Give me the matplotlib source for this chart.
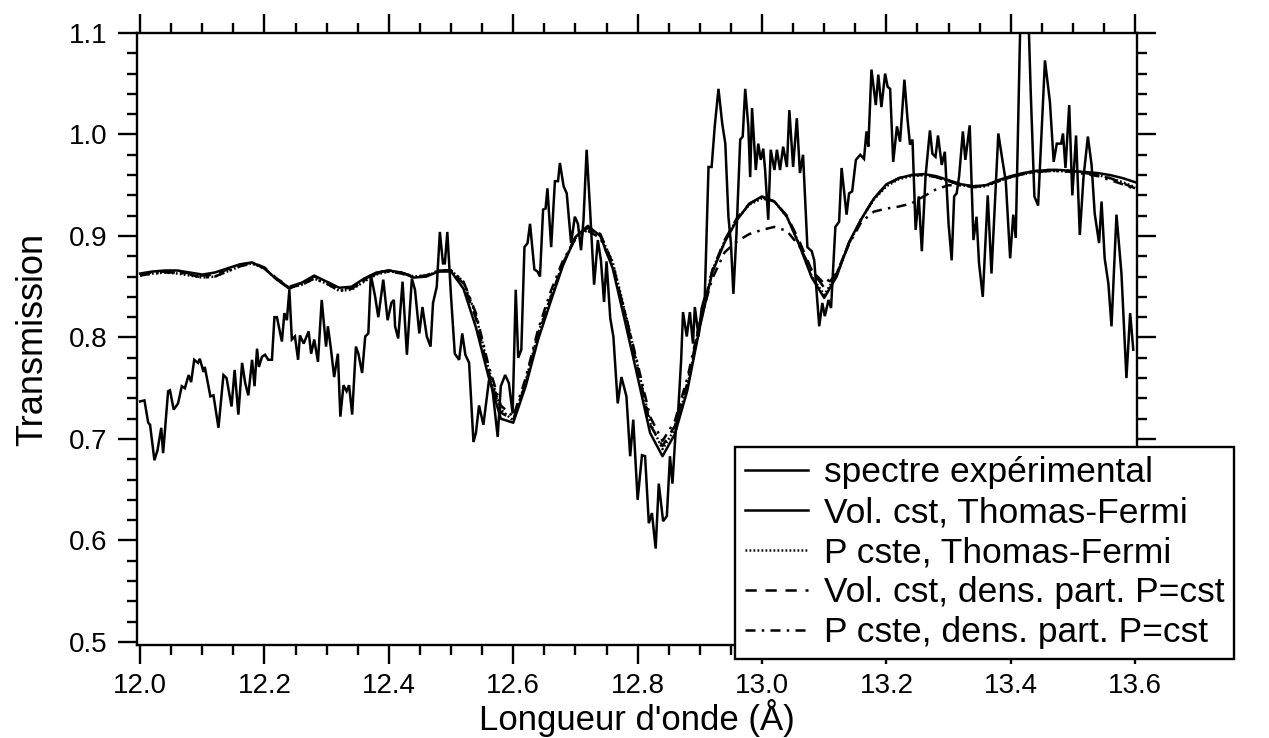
import numpy as np
import matplotlib
matplotlib.use("Agg")
import matplotlib.pyplot as plt
from matplotlib.ticker import MultipleLocator

plt.rcParams['font.family'] = ['Liberation Sans', 'DejaVu Sans']

# ---------------- data ----------------
exp_x = [12.000, 12.007, 12.013, 12.016, 12.023, 12.028, 12.034, 12.037, 12.045, 12.048,
         12.054, 12.061, 12.067, 12.072, 12.078, 12.082, 12.087, 12.093, 12.096, 12.102,
         12.104, 12.113, 12.118, 12.126, 12.134, 12.139, 12.147, 12.152, 12.158, 12.164,
         12.169, 12.174, 12.180, 12.184, 12.188, 12.191, 12.196, 12.201, 12.206, 12.212,
         12.216, 12.220, 12.228, 12.232, 12.236, 12.240, 12.244, 12.249, 12.254, 12.257,
         12.263, 12.271, 12.275, 12.280, 12.286, 12.292, 12.299, 12.302, 12.307, 12.312,
         12.318, 12.322, 12.327, 12.332, 12.336, 12.341, 12.347, 12.351, 12.357, 12.362,
         12.367, 12.371, 12.378, 12.383, 12.391, 12.398, 12.404, 12.408, 12.410, 12.415,
         12.422, 12.429, 12.437, 12.442, 12.449, 12.454, 12.461, 12.467, 12.471, 12.477,
         12.482, 12.487, 12.490, 12.494, 12.500, 12.506, 12.513, 12.518, 12.523, 12.529,
         12.536, 12.540, 12.545, 12.552, 12.561, 12.566, 12.575, 12.580, 12.587, 12.593,
         12.599, 12.604, 12.608, 12.613, 12.618, 12.623, 12.627, 12.634, 12.639, 12.643,
         12.648, 12.652, 12.655, 12.661, 12.667, 12.672, 12.675, 12.681, 12.686, 12.693,
         12.699, 12.704, 12.709, 12.713, 12.718, 12.723, 12.730, 12.736, 12.741, 12.746,
         12.750, 12.756, 12.761, 12.768, 12.774, 12.782, 12.788, 12.793, 12.800, 12.807,
         12.812, 12.818, 12.823, 12.829, 12.834, 12.841, 12.847, 12.852, 12.856, 12.861,
         12.865, 12.870, 12.873, 12.879, 12.884, 12.889, 12.892, 12.898, 12.903, 12.908,
         12.914, 12.919, 12.924, 12.930, 12.936, 12.941, 12.946, 12.950, 12.954, 12.959,
         12.965, 12.969, 12.973, 12.978, 12.981, 12.984, 12.990, 12.994, 12.998, 13.002,
         13.005, 13.010, 13.014, 13.020, 13.024, 13.029, 13.034, 13.040, 13.044, 13.050,
         13.056, 13.061, 13.066, 13.073, 13.080, 13.084, 13.088, 13.092, 13.097, 13.101,
         13.107, 13.111, 13.118, 13.124, 13.128, 13.136, 13.140, 13.145, 13.151, 13.158,
         13.164, 13.168, 13.171, 13.176, 13.183, 13.187, 13.192, 13.198, 13.202, 13.206,
         13.211, 13.217, 13.222, 13.229, 13.234, 13.238, 13.242, 13.247, 13.252, 13.257,
         13.263, 13.270, 13.274, 13.279, 13.283, 13.289, 13.294, 13.300, 13.305, 13.309,
         13.313, 13.317, 13.323, 13.327, 13.334, 13.340, 13.345, 13.349, 13.355, 13.363,
         13.369, 13.380, 13.386, 13.392, 13.399, 13.404, 13.408, 13.416, 13.428, 13.432,
         13.438, 13.444, 13.455, 13.463, 13.469, 13.474, 13.481, 13.484, 13.488, 13.494,
         13.499, 13.505, 13.511, 13.517, 13.524, 13.530, 13.535, 13.542, 13.546, 13.551,
         13.557, 13.562, 13.570, 13.578, 13.586, 13.592, 13.597]
exp_y = [0.737, 0.738, 0.716, 0.714, 0.679, 0.689, 0.711, 0.686, 0.747, 0.748,
         0.729, 0.735, 0.752, 0.750, 0.763, 0.756, 0.778, 0.775, 0.779, 0.766,
         0.771, 0.742, 0.743, 0.711, 0.763, 0.760, 0.732, 0.768, 0.724, 0.775,
         0.755, 0.743, 0.778, 0.752, 0.789, 0.771, 0.781, 0.783, 0.778, 0.778,
         0.820, 0.820, 0.796, 0.824, 0.817, 0.847, 0.798, 0.801, 0.778, 0.802,
         0.794, 0.806, 0.784, 0.798, 0.776, 0.837, 0.791, 0.811, 0.788, 0.761,
         0.784, 0.722, 0.753, 0.747, 0.753, 0.724, 0.791, 0.784, 0.765, 0.801,
         0.804, 0.862, 0.840, 0.820, 0.857, 0.817, 0.834, 0.837, 0.811, 0.799,
         0.855, 0.783, 0.858, 0.847, 0.804, 0.830, 0.801, 0.791, 0.834, 0.850,
         0.904, 0.873, 0.873, 0.904, 0.840, 0.784, 0.778, 0.804, 0.783, 0.775,
         0.697, 0.706, 0.733, 0.714, 0.758, 0.752, 0.702, 0.752, 0.763, 0.755,
         0.725, 0.847, 0.780, 0.788, 0.889, 0.893, 0.912, 0.867, 0.865, 0.860,
         0.926, 0.927, 0.947, 0.889, 0.954, 0.954, 0.972, 0.949, 0.942, 0.893,
         0.919, 0.912, 0.886, 0.916, 0.985, 0.932, 0.852, 0.896, 0.876, 0.835,
         0.875, 0.819, 0.801, 0.735, 0.761, 0.742, 0.683, 0.719, 0.640, 0.684,
         0.683, 0.617, 0.627, 0.592, 0.656, 0.619, 0.624, 0.683, 0.656, 0.706,
         0.725, 0.778, 0.825, 0.801, 0.825, 0.794, 0.830, 0.801, 0.829, 0.840,
         0.968, 0.968, 1.008, 1.045, 1.011, 0.991, 0.919, 0.893, 0.843, 0.903,
         0.995, 0.998, 1.045, 1.008, 0.958, 1.026, 0.965, 0.991, 0.975, 0.986,
         0.965, 0.916, 0.985, 0.965, 0.985, 0.965, 0.988, 0.968, 1.024, 0.968,
         1.016, 0.962, 0.980, 0.889, 0.885, 0.876, 0.843, 0.811, 0.834, 0.821,
         0.837, 0.829, 0.909, 0.914, 0.967, 0.921, 0.942, 0.944, 0.975, 0.980,
         0.976, 1.003, 0.988, 1.064, 1.029, 1.059, 1.027, 1.060, 1.047, 1.045,
         0.973, 1.008, 0.993, 1.054, 1.015, 0.990, 0.995, 0.906, 0.939, 0.885,
         0.959, 1.004, 0.981, 0.978, 0.999, 0.970, 0.983, 0.912, 0.876, 0.939,
         0.942, 0.959, 1.003, 0.975, 1.009, 0.896, 0.919, 0.873, 0.840, 0.940,
         0.863, 1.001, 0.977, 0.954, 0.878, 0.921, 0.898, 1.130, 1.125, 1.044,
         0.939, 0.930, 1.073, 1.032, 0.973, 0.991, 0.991, 1.001, 0.967, 1.029,
         0.940, 0.999, 0.901, 0.958, 0.998, 0.970, 0.922, 0.893, 0.934, 0.878,
         0.853, 0.811, 0.921, 0.863, 0.760, 0.824, 0.788]

theo_x = [12.00, 12.02, 12.04, 12.06, 12.08, 12.10, 12.12, 12.14, 12.16, 12.18,
          12.20, 12.22, 12.24, 12.26, 12.28, 12.30, 12.32, 12.34, 12.36, 12.38,
          12.40, 12.42, 12.44, 12.46, 12.48, 12.50, 12.52, 12.54, 12.56, 12.58,
          12.60, 12.62, 12.64, 12.66, 12.68, 12.70, 12.72, 12.74, 12.76, 12.78,
          12.80, 12.82, 12.84, 12.86, 12.88, 12.90, 12.92, 12.94, 12.96, 12.98,
          13.00, 13.02, 13.04, 13.06, 13.08, 13.10, 13.12, 13.14, 13.16, 13.18,
          13.20, 13.22, 13.24, 13.26, 13.28, 13.30, 13.32, 13.34, 13.36, 13.38,
          13.40, 13.42, 13.44, 13.46, 13.48, 13.50, 13.52, 13.54, 13.56, 13.58,
          13.60]
vol_tf = [0.863, 0.865, 0.866, 0.866, 0.864, 0.862, 0.864, 0.868, 0.872, 0.874,
          0.868, 0.857, 0.848, 0.854, 0.861, 0.855, 0.849, 0.850, 0.858, 0.864,
          0.866, 0.864, 0.859, 0.860, 0.865, 0.865, 0.848, 0.810, 0.762, 0.720,
          0.716, 0.752, 0.798, 0.835, 0.871, 0.899, 0.910, 0.900, 0.868, 0.815,
          0.761, 0.706, 0.683, 0.705, 0.748, 0.810, 0.864, 0.894, 0.916, 0.932,
          0.939, 0.934, 0.919, 0.891, 0.859, 0.839, 0.860, 0.894, 0.917, 0.937,
          0.951, 0.957, 0.960, 0.961, 0.959, 0.955, 0.951, 0.949, 0.950, 0.955,
          0.959, 0.962, 0.964, 0.965, 0.965, 0.964, 0.963, 0.962, 0.960, 0.957,
          0.953]
p_tf = [0.861, 0.863, 0.864, 0.863, 0.861, 0.859, 0.860, 0.865, 0.870, 0.873,
        0.868, 0.857, 0.849, 0.852, 0.858, 0.853, 0.846, 0.847, 0.855, 0.862,
        0.865, 0.864, 0.860, 0.861, 0.865, 0.866, 0.855, 0.822, 0.770, 0.729,
        0.718, 0.757, 0.804, 0.840, 0.873, 0.898, 0.906, 0.901, 0.874, 0.825,
        0.772, 0.716, 0.690, 0.710, 0.752, 0.812, 0.866, 0.895, 0.917, 0.931,
        0.937, 0.934, 0.919, 0.892, 0.860, 0.842, 0.862, 0.893, 0.917, 0.936,
        0.949, 0.956, 0.959, 0.960, 0.958, 0.954, 0.950, 0.948, 0.949, 0.954,
        0.958, 0.961, 0.963, 0.964, 0.964, 0.963, 0.962, 0.960, 0.957, 0.953,
        0.948]
vol_dp = [0.862, 0.864, 0.865, 0.865, 0.863, 0.861, 0.862, 0.867, 0.871, 0.874,
          0.869, 0.858, 0.850, 0.854, 0.860, 0.855, 0.848, 0.849, 0.857, 0.864,
          0.866, 0.864, 0.860, 0.861, 0.866, 0.866, 0.853, 0.819, 0.766, 0.726,
          0.719, 0.755, 0.802, 0.839, 0.873, 0.899, 0.908, 0.902, 0.873, 0.822,
          0.770, 0.714, 0.693, 0.713, 0.755, 0.815, 0.866, 0.896, 0.918, 0.932,
          0.938, 0.934, 0.920, 0.895, 0.866, 0.849, 0.863, 0.893, 0.917, 0.937,
          0.950, 0.957, 0.960, 0.960, 0.958, 0.954, 0.950, 0.948, 0.950, 0.954,
          0.958, 0.962, 0.964, 0.965, 0.965, 0.964, 0.962, 0.960, 0.957, 0.952,
          0.947]
p_dp = [0.861, 0.863, 0.864, 0.864, 0.862, 0.859, 0.860, 0.865, 0.870, 0.873,
        0.868, 0.857, 0.849, 0.852, 0.858, 0.853, 0.846, 0.848, 0.856, 0.863,
        0.865, 0.863, 0.859, 0.861, 0.866, 0.866, 0.855, 0.824, 0.773, 0.733,
        0.722, 0.760, 0.808, 0.845, 0.876, 0.897, 0.905, 0.898, 0.870, 0.824,
        0.774, 0.722, 0.698, 0.718, 0.760, 0.815, 0.858, 0.884, 0.895, 0.902,
        0.906, 0.909, 0.905, 0.890, 0.866, 0.853, 0.863, 0.892, 0.914, 0.924,
        0.927, 0.929, 0.932, 0.939, 0.946, 0.950, 0.950, 0.949, 0.950, 0.954,
        0.958, 0.961, 0.963, 0.964, 0.964, 0.963, 0.961, 0.959, 0.955, 0.951,
        0.946]

labels = ["spectre expérimental", "Vol. cst, Thomas-Fermi", "P cste, Thomas-Fermi",
          "Vol. cst, dens. part. P=cst", "P cste, dens. part. P=cst"]
x_ticks = [12.0, 12.2, 12.4, 12.6, 12.8, 13.0, 13.2, 13.4, 13.6]
y_ticks = [0.5, 0.6, 0.7, 0.8, 0.9, 1.0, 1.1]

# ---------------- figure ----------------
W, H = 1269, 738
fig = plt.figure(figsize=(W / 100, H / 100), dpi=100)
ax = fig.add_axes([137 / W, 1 - 645 / H, 1000 / W, 612 / H])

lw = 1.8
ax.plot(exp_x, exp_y, color='black', lw=lw, solid_joinstyle='miter', label=labels[0])
ax.plot(theo_x, vol_tf, color='black', lw=lw, label=labels[1])
ax.plot(theo_x, p_tf, color='black', lw=lw, ls=(0, (0.7, 0.9)), label=labels[2])
ax.plot(theo_x, vol_dp, color='black', lw=lw, ls=(0, (4.5, 3.5)), label=labels[3])
ax.plot(theo_x, p_dp, color='black', lw=lw, ls=(0, (4, 2.5, 1, 2.5)), label=labels[4])

ax.set_xlim(11.995, 13.603)
ax.set_ylim(0.497, 1.1)
ax.set_xticks(x_ticks)
ax.set_xticklabels([f"{v:.1f}" for v in x_ticks])
ax.set_yticks(y_ticks)
ax.set_yticklabels([f"{v:.1f}" for v in y_ticks])
ax.xaxis.set_minor_locator(MultipleLocator(0.05))
ax.yaxis.set_minor_locator(MultipleLocator(0.02))

for s in ax.spines.values():
    s.set_linewidth(1.7)
ax.tick_params(which='both', direction='out', width=1.7, top=True, right=True,
               labeltop=False, labelright=False)
ax.tick_params(which='major', length=14, labelsize=20)
ax.tick_params(axis='x', which='major', pad=6)
ax.tick_params(axis='y', which='major', pad=7)
ax.tick_params(which='minor', length=7.5)

ax.set_xlabel("Longueur d'onde (Å)", fontsize=25, labelpad=0)
ax.set_ylabel("Transmission", fontsize=26, labelpad=14)

leg = ax.legend(loc='lower left', bbox_to_anchor=(735 / W, 1 - 659 / H),
                bbox_transform=fig.transFigure, fontsize=25.5, frameon=True,
                fancybox=False, framealpha=1, edgecolor='black',
                handlelength=1.8, handletextpad=0.44, labelspacing=0.2,
                borderpad=0.27, borderaxespad=0)
leg.get_frame().set_linewidth(1.7)
leg.set_zorder(10)

fig.savefig("out.png", dpi=100)
